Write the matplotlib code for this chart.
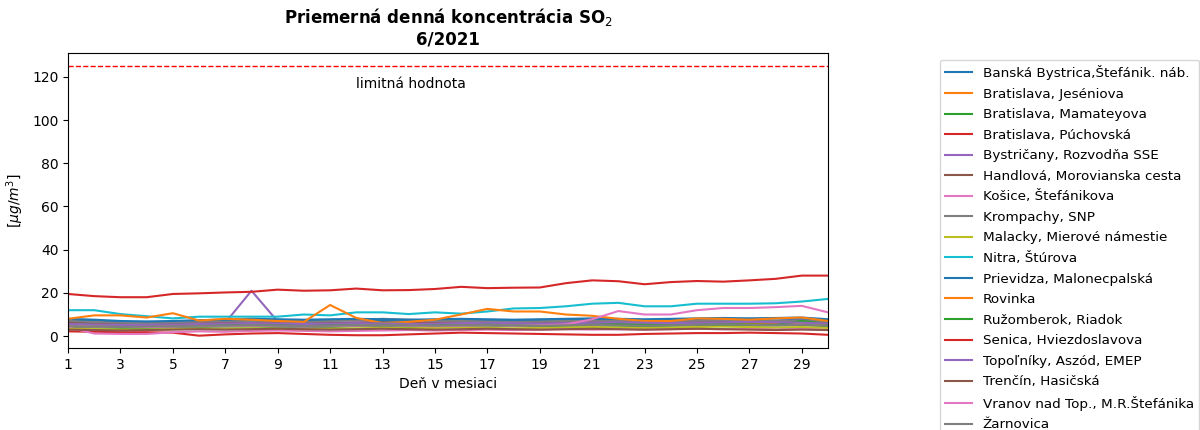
import numpy as np
import matplotlib
matplotlib.use("Agg")
import matplotlib.pyplot as plt

days = np.arange(1, 31)

stations = [
    "Banská Bystrica,Štefánik. náb.",
    "Bratislava, Jeséniova",
    "Bratislava, Mamateyova",
    "Bratislava, Púchovská",
    "Bystričany, Rozvodňa SSE",
    "Handlová, Morovianska cesta",
    "Košice, Štefánikova",
    "Krompachy, SNP",
    "Malacky, Mierové námestie",
    "Nitra, Štúrova",
    "Prievidza, Malonecpalská",
    "Rovinka",
    "Ružomberok, Riadok",
    "Senica, Hviezdoslavova",
    "Topoľníky, Aszód, EMEP",
    "Trenčín, Hasičská",
    "Vranov nad Top., M.R.Štefánika",
    "Žarnovica",
]

banska_bystrica = [7.5, 7.2, 6.5, 6.2, 6.4, 6.8, 7.0, 7.2, 7.1, 7.0, 7.2, 7.4, 7.1, 7.0, 7.2, 7.4, 7.0, 7.2, 7.5, 7.6, 7.8, 7.6, 7.4, 7.6, 7.8, 7.9, 8.0, 8.1, 7.8, 7.2]
bratislava_jes = [5.0, 4.6, 4.2, 4.4, 4.8, 4.6, 4.8, 5.0, 4.8, 4.6, 5.2, 5.0, 4.8, 4.6, 5.0, 5.2, 5.0, 4.8, 5.0, 5.4, 5.6, 5.2, 5.0, 5.4, 5.8, 6.0, 5.6, 5.8, 6.2, 5.4]
bratislava_mam = [4.2, 4.0, 3.8, 3.8, 4.0, 4.2, 4.4, 4.4, 4.2, 4.0, 4.2, 4.6, 4.4, 4.2, 4.4, 4.6, 4.8, 4.6, 4.6, 4.8, 5.0, 4.8, 4.6, 4.8, 5.0, 5.0, 4.8, 5.0, 5.2, 4.6]
bratislava_puch = [2.2, 2.0, 1.8, 1.8, 1.6, 0.2, 0.8, 1.2, 1.4, 1.0, 0.6, 0.4, 0.4, 0.8, 1.2, 1.6, 1.4, 1.2, 1.0, 0.8, 0.6, 0.6, 1.0, 1.2, 1.4, 1.4, 1.6, 1.4, 1.2, 0.6]
bystricany = [6.0, 5.6, 5.2, 5.4, 5.8, 6.0, 6.2, 21.0, 6.8, 6.4, 6.2, 6.4, 6.2, 6.0, 6.2, 6.4, 6.2, 6.0, 6.4, 6.6, 6.8, 6.6, 6.4, 6.6, 6.8, 7.0, 6.8, 7.0, 7.2, 6.4]
handlova = [6.2, 6.0, 5.6, 5.4, 5.6, 5.8, 6.0, 6.2, 6.0, 5.8, 6.0, 6.2, 6.4, 6.0, 6.2, 6.4, 6.2, 6.0, 6.2, 6.4, 6.6, 6.4, 6.2, 6.4, 6.6, 6.8, 6.6, 6.4, 6.6, 6.0]
kosice = [4.0, 1.2, 1.0, 1.0, 1.8, 2.2, 2.0, 2.4, 2.6, 2.4, 2.2, 2.4, 2.6, 2.8, 2.6, 2.8, 3.0, 2.8, 3.0, 3.2, 3.0, 3.2, 3.0, 3.2, 3.4, 3.2, 3.4, 3.2, 3.4, 3.0]
krompachy = [7.0, 6.6, 6.2, 6.0, 6.4, 6.8, 7.0, 7.2, 6.8, 6.6, 7.0, 7.4, 8.0, 7.6, 7.2, 7.0, 6.8, 6.6, 6.8, 7.0, 7.2, 7.0, 6.8, 7.0, 7.2, 7.4, 7.2, 7.0, 7.2, 6.6]
malacky = [3.4, 3.2, 3.0, 3.0, 3.2, 3.4, 3.4, 3.6, 3.4, 3.2, 3.4, 3.6, 3.8, 3.6, 3.8, 4.0, 3.8, 3.6, 3.8, 4.0, 4.2, 4.0, 3.8, 4.0, 4.2, 4.4, 4.2, 4.0, 4.2, 3.8]
nitra = [12.0, 12.0, 10.2, 9.2, 8.2, 9.0, 9.0, 9.0, 9.0, 10.0, 9.6, 11.0, 11.0, 10.2, 11.0, 10.4, 11.4, 12.8, 13.0, 13.8, 15.0, 15.4, 13.8, 13.8, 15.0, 15.0, 15.0, 15.2, 16.0, 17.2]
prievidza = [8.0, 7.6, 7.0, 6.8, 7.0, 7.4, 7.6, 8.0, 7.8, 7.6, 7.8, 8.0, 7.8, 7.6, 7.8, 8.0, 7.8, 7.6, 7.8, 8.0, 8.2, 8.0, 7.8, 8.0, 8.2, 8.4, 8.2, 8.4, 8.6, 7.8]
rovinka = [8.0, 9.6, 9.6, 8.6, 10.6, 7.2, 8.0, 7.6, 7.0, 6.6, 14.4, 8.4, 6.0, 6.6, 7.6, 10.0, 12.6, 11.4, 11.4, 10.0, 9.4, 8.0, 7.0, 7.0, 8.2, 8.0, 7.6, 8.2, 8.6, 7.0]
ruzomberok = [5.4, 5.2, 5.0, 5.0, 5.2, 5.4, 5.6, 5.6, 5.4, 5.2, 5.4, 5.6, 5.8, 5.6, 5.4, 5.6, 5.8, 5.6, 5.4, 5.6, 5.8, 5.6, 5.4, 5.6, 5.8, 5.6, 5.4, 5.2, 7.0, 5.6]
senica = [19.5, 18.5, 18.0, 18.0, 19.5, 19.8, 20.2, 20.5, 21.5, 21.0, 21.2, 22.0, 21.2, 21.3, 21.8, 22.8, 22.2, 22.4, 22.5, 24.5, 25.8, 25.4, 24.0, 25.0, 25.5, 25.2, 25.8, 26.5, 28.0, 28.0]
topolniky = [5.6, 5.4, 5.2, 5.2, 5.4, 5.6, 5.8, 6.0, 5.8, 5.6, 5.8, 6.0, 5.8, 5.6, 5.8, 6.0, 6.2, 6.0, 5.8, 6.0, 6.2, 6.4, 6.2, 6.0, 6.2, 6.4, 6.6, 6.4, 6.2, 5.8]
trencin = [3.0, 2.8, 2.6, 2.8, 3.0, 3.2, 3.0, 3.2, 3.4, 3.2, 3.0, 3.2, 3.4, 3.2, 3.0, 3.2, 3.4, 3.2, 3.0, 3.2, 3.4, 3.2, 3.0, 3.2, 3.4, 3.2, 3.0, 2.8, 3.0, 2.8]
vranov = [4.6, 4.4, 4.2, 4.2, 4.4, 4.6, 4.6, 4.8, 4.6, 4.4, 4.6, 4.8, 5.0, 4.8, 4.6, 4.8, 5.0, 4.8, 5.0, 5.4, 7.8, 11.6, 10.0, 10.0, 12.0, 13.0, 13.0, 13.4, 14.0, 11.0]
zarnovica = [4.6, 4.4, 4.2, 4.4, 4.6, 4.8, 4.8, 5.0, 4.8, 4.6, 4.8, 5.0, 5.2, 5.0, 4.8, 5.0, 5.2, 5.0, 4.8, 5.0, 5.2, 5.0, 4.8, 5.0, 5.2, 5.4, 5.2, 5.0, 5.2, 4.8]

series = [banska_bystrica, bratislava_jes, bratislava_mam, bratislava_puch, bystricany,
          handlova, kosice, krompachy, malacky, nitra, prievidza, rovinka, ruzomberok,
          senica, topolniky, trencin, vranov, zarnovica]

limit = 125

fig = plt.figure(figsize=(12, 4.3), dpi=100)
ax = fig.add_axes([0.0567, 0.1907, 0.6333, 0.686])

for name, vals in zip(stations, series):
    ax.plot(days, vals, label=name)

ax.axhline(limit, color="red", linestyle="--", linewidth=1)
ax.text(12, 115, "limitná hodnota", fontsize=10)

ax.set_xlim(1, 30)
ax.set_ylim(-5.5, 131)
ax.set_xticks(np.arange(1, 30, 2))
ax.set_xlabel("Deň v mesiaci")
ax.set_ylabel("[$\\mu g/m^3$]")
ax.set_title("Priemerná denná koncentrácia SO$_2$\n6/2021", fontweight="bold", fontsize=12)
ax.legend(loc="upper left", bbox_to_anchor=(1.138, 1.0), fontsize=9.7, labelspacing=0.56)

fig.savefig("out.png", dpi=100)
